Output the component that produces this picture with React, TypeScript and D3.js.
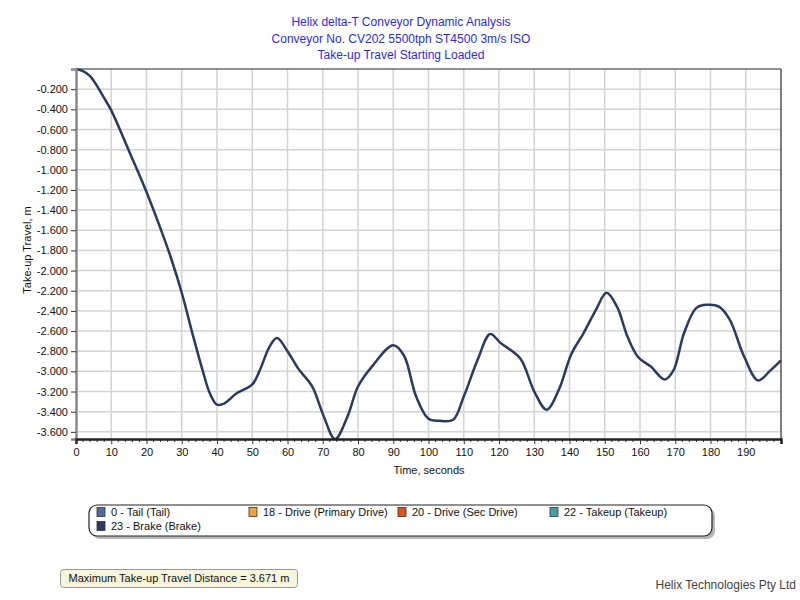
import { useEffect, useRef } from "react"
import * as d3 from "d3"

// take-up travel vs time
const timeSec = [0, 2, 4, 6, 8, 10, 15, 20, 25, 27, 30, 33, 36, 38, 40, 42, 45.5, 50, 52, 55, 57, 60, 63, 67, 70, 73.5, 77, 80, 84, 90, 93, 96.5, 100, 103, 107, 110, 114, 117.5, 120.5, 126, 130, 133.5, 137, 140.5, 144, 147.5, 150.5, 153.5, 156.5, 159.5, 163, 167, 169.5, 172.5, 176, 179, 182.5, 185.5, 189.5, 193.5, 197, 200]
const travel = [0, -0.02, -0.07, -0.17, -0.29, -0.41, -0.81, -1.22, -1.68, -1.88, -2.22, -2.62, -3.0, -3.22, -3.33, -3.32, -3.22, -3.13, -3.0, -2.75, -2.67, -2.8, -2.97, -3.15, -3.42, -3.671, -3.45, -3.15, -2.95, -2.74, -2.84, -3.25, -3.47, -3.49, -3.48, -3.25, -2.88, -2.63, -2.72, -2.87, -3.2, -3.38, -3.18, -2.83, -2.62, -2.39, -2.22, -2.36, -2.66, -2.86, -2.95, -3.08, -2.99, -2.62, -2.37, -2.34, -2.36, -2.49, -2.85, -3.09, -2.99, -2.89]

const titleLines = ["Helix delta-T Conveyor Dynamic Analysis", "Conveyor No. CV202 5500tph ST4500 3m/s ISO", "Take-up Travel Starting Loaded"]
const xTicks = [0, 10, 20, 30, 40, 50, 60, 70, 80, 90, 100, 110, 120, 130, 140, 150, 160, 170, 180, 190]
const yTicks = [-0.2, -0.4, -0.6, -0.8, -1.0, -1.2, -1.4, -1.6, -1.8, -2.0, -2.2, -2.4, -2.6, -2.8, -3.0, -3.2, -3.4, -3.6]
const legendNames = ["0 - Tail (Tail)", "18 - Drive (Primary Drive)", "20 - Drive (Sec Drive)", "22 - Takeup (Takeup)", "23 - Brake (Brake)"]
const legendColors = ["#4d6a9c", "#f0a438", "#e2531c", "#4aa0a8", "#2b3a60"]
const maxTravel = 3.671

const font = "'Liberation Sans', Arial, sans-serif"

export default function App() {
    let svgRef = useRef<SVGSVGElement>(null),
        width = 800,
        height = 600,
        margin = { left: 76, top: 69, right: 19, bottom: 161 };

    useEffect(() => {
        let svg = d3.select(svgRef.current)
        svg.selectAll("*").remove()
        let w = width - margin.left - margin.right,
            h = height - margin.top - margin.bottom

        let xScale = d3.scaleLinear().domain([0, 200]).range([0, w]),
            yScale = d3.scaleLinear().domain([-maxTravel, 0]).range([h, 0])

        svg.append("rect").attr("width", width).attr("height", height).attr("fill", "#fff")

        // titles
        svg.append("g").selectAll("text").data(titleLines).join("text")
            .attr("x", 401).attr("y", (d, i) => 26 + i * 16.5)
            .attr("text-anchor", "middle")
            .attr("font-family", font).attr("font-size", 12)
            .attr("fill", "#2b2bf0")
            .text(d => d)

        let main = svg.append("g").attr("transform", `translate(${margin.left}, ${margin.top})`)

        // grid
        main.append("g").selectAll("line").data(xTicks.slice(1)).join("line")
            .attr("x1", d => xScale(d)).attr("x2", d => xScale(d))
            .attr("y1", 0).attr("y2", h)
            .attr("stroke", "#d4d4d4").attr("stroke-width", 1.5)
        main.append("g").selectAll("line").data(yTicks).join("line")
            .attr("x1", 0).attr("x2", w)
            .attr("y1", d => yScale(d)).attr("y2", d => yScale(d))
            .attr("stroke", "#d4d4d4").attr("stroke-width", 1.5)

        // frame
        main.append("line").attr("x1", 0).attr("x2", w).attr("y1", 0).attr("y2", 0).attr("stroke", "#222").attr("stroke-width", 1)
        main.append("line").attr("x1", w).attr("x2", w).attr("y1", 0).attr("y2", h).attr("stroke", "#555").attr("stroke-width", 1.5)

        // the line
        let pts = timeSec.map((t, i) => [t, travel[i]] as [number, number])
        let valueLine = d3.line<[number, number]>()
            .x(d => xScale(d[0]))
            .y(d => yScale(d[1]))
            .curve(d3.curveCatmullRom.alpha(0.5))
        main.append("path")
            .datum(pts)
            .attr("fill", "none")
            .attr("stroke", "#2b3a60")
            .attr("stroke-width", 2.5)
            .attr("stroke-linejoin", "round")
            .attr("d", valueLine)

        // y axis (plain hyphen minus like the original)
        let yAxis = d3.axisLeft(yScale).tickValues(yTicks)
            .tickFormat(d => (+d).toFixed(3))
            .tickSize(5).tickPadding(3)
        let yg = main.append("g").call(yAxis)
        yg.select(".domain").attr("stroke", "#888").attr("stroke-width", 2.5)
        yg.selectAll(".tick line").attr("stroke", "#333")
        yg.selectAll("text").attr("font-family", font).attr("font-size", 11).attr("fill", "#111")

        // x axis with minor ticks
        let minor = d3.range(0, 200, 2).filter(d => d % 10 !== 0)
        main.append("g").selectAll("line").data(minor).join("line")
            .attr("x1", d => xScale(d)).attr("x2", d => xScale(d))
            .attr("y1", h).attr("y2", h + 3)
            .attr("stroke", "#333")
        let xAxis = d3.axisBottom(xScale).tickValues(xTicks).tickSize(5).tickPadding(4)
        let xg = main.append("g").attr("transform", `translate(0, ${h})`).call(xAxis)
        xg.select(".domain").attr("stroke", "#222").attr("stroke-width", 2.5)
        xg.selectAll(".tick line").attr("stroke", "#333")
        xg.selectAll("text").attr("font-family", font).attr("font-size", 11).attr("fill", "#111")

        // axis titles
        svg.append("text").attr("x", 429).attr("y", 474).attr("text-anchor", "middle")
            .attr("font-family", font).attr("font-size", 11).attr("fill", "#111").text("Time, seconds")
        svg.append("text").attr("transform", "translate(31, 250) rotate(-90)").attr("text-anchor", "middle")
            .attr("font-family", font).attr("font-size", 11).attr("fill", "#111").text("Take-up Travel, m")

        // legend
        let lg = svg.append("g")
        lg.append("rect").attr("x", 92).attr("y", 508).attr("width", 623).attr("height", 31).attr("rx", 8).attr("fill", "#888").attr("opacity", 0.6)
        lg.append("rect").attr("x", 89).attr("y", 505).attr("width", 623).attr("height", 31).attr("rx", 8).attr("fill", "#fff").attr("stroke", "#222").attr("stroke-width", 1.2)
        let legX = [97, 249, 398, 550, 97], legY = [512, 512, 512, 512, 526]
        legendNames.forEach((n, i) => {
            lg.append("rect").attr("x", legX[i]).attr("y", legY[i] - 4.5).attr("width", 8).attr("height", 9)
                .attr("fill", legendColors[i]).attr("stroke", "#333").attr("stroke-width", 0.8)
            lg.append("text").attr("x", legX[i] + 14).attr("y", legY[i] + 4)
                .attr("font-family", font).attr("font-size", 11).attr("fill", "#111").text(n)
        })

        // footer
        svg.append("rect").attr("x", 60.5).attr("y", 569.5).attr("width", 237).attr("height", 18).attr("rx", 3)
            .attr("fill", "#f7f5dc").attr("stroke", "#999")
        svg.append("text").attr("x", 179).attr("y", 582).attr("text-anchor", "middle")
            .attr("font-family", font).attr("font-size", 11).attr("fill", "#111")
            .text(`Maximum Take-up Travel Distance = ${maxTravel.toFixed(3)} m`)
        svg.append("text").attr("x", 796).attr("y", 589).attr("text-anchor", "end")
            .attr("font-family", font).attr("font-size", 12).attr("fill", "#444")
            .text("Helix Technologies Pty Ltd")
    }, [])

    return (
        <div style={{ position: "absolute", left: 0, top: 0 }}>
            <svg ref={svgRef} width={width} height={height} style={{ display: "block" }} />
        </div>
    )
}
